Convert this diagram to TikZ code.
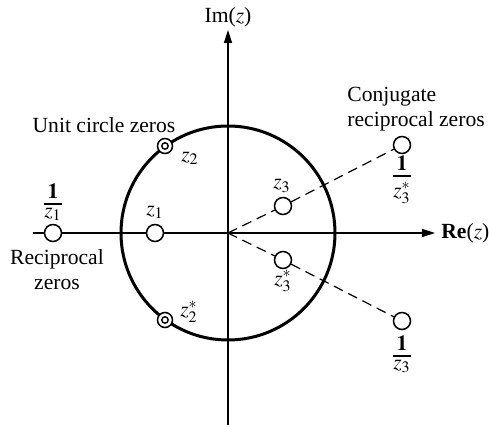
\documentclass[tikz,border=0pt]{standalone}
\usepackage{amsmath}
\usepackage{mathptmx}
\usepackage[no-math]{fontspec}
\setmainfont{Liberation Serif}
\usetikzlibrary{arrows.meta}
\newcommand{\recip}[1]{\ensuremath{\renewcommand{\arraystretch}{0.6}\setlength{\arrayrulewidth}{0.6pt}%
  \begin{array}{@{}c@{}}\mathbf{1}\\\hline\rule{0pt}{6.5pt}#1\end{array}}}

\begin{document}
\begin{tikzpicture}[x=0.5pt, y=-0.5pt,
      axis/.style={line width=0.75pt, -{Triangle[length=6.5pt,width=4pt]}},
      zero/.style={circle, draw, line width=0.75pt, fill=white,
                   minimum size=8.5pt, inner sep=0pt},
      uczero/.style={zero, minimum size=7.5pt,
                   path picture={\draw[line width=0.7pt] (path picture bounding box.center) circle (1.6pt);}},
      conj/.style={line width=0.6pt, dash pattern=on 5pt off 3pt},
      lbl/.style={inner sep=0pt, align=center},
      every node/.style={font=\fontsize{10.8}{12.5}\selectfont}]
    \useasboundingbox (0,0) rectangle (489,427);
    \coordinate (O)  at (228,233);
    \coordinate (xl) at (33,233);
    \coordinate (xr) at (435,233);
    \coordinate (yb) at (228,425);
    \coordinate (yt) at (228,30);
    \draw[axis] (xl) -- (xr);
    \draw[axis] (yb) -- (yt);
    \draw[line width=1.5pt] (O) circle (53.5pt);
    \node[zero]   (z1)   at (155,233) {};
    \node[zero]   (iz1)  at (53,233)  {};
    \node[uczero] (z2)   at (165,146) {};
    \node[uczero] (z2s)  at (165,320) {};
    \node[zero]   (z3)   at (283,206) {};
    \node[zero]   (z3s)  at (283,260) {};
    \node[zero]   (iz3s) at (402,145) {};
    \node[zero]   (iz3)  at (402,321) {};
    \draw[conj] (O) -- (z3) -- (iz3s);
    \draw[conj] (O) -- (z3s) -- (iz3);
    \node[lbl] (lz1)   at (155,212) {$z_1$};
    \node[lbl] (liz1)  at (53,203)  {\recip{z_1}};
    \node[lbl] (lz2)   at (190,158) {$z_2$};
    \node[lbl] (lz2s)  at (189,312) {$z_2^*$};
    \node[lbl] (lz3)   at (282,186) {$z_3$};
    \node[lbl] (lz3s)  at (283,281) {$z_3^*$};
    \node[lbl] (liz3s) at (402,180) {\recip{\rule{0pt}{10.5pt}z_3^*}};
    \node[lbl] (liz3)  at (402,355) {\recip{z_3}};
    \node[lbl] (im)    at (228,17)  {Im($z$)};
    \node[lbl, anchor=west] (re) at (441,233) {\textbf{Re}($z$)};
    \node[lbl] (ucz)   at (104,125) {Unit circle zeros};
    \node[lbl, anchor=west, align=left] (crz) at (347,109) {Conjugate\\reciprocal zeros};
    \node[lbl] (rz)    at (57,270)  {Reciprocal\\zeros};
  \end{tikzpicture}
\end{document}
